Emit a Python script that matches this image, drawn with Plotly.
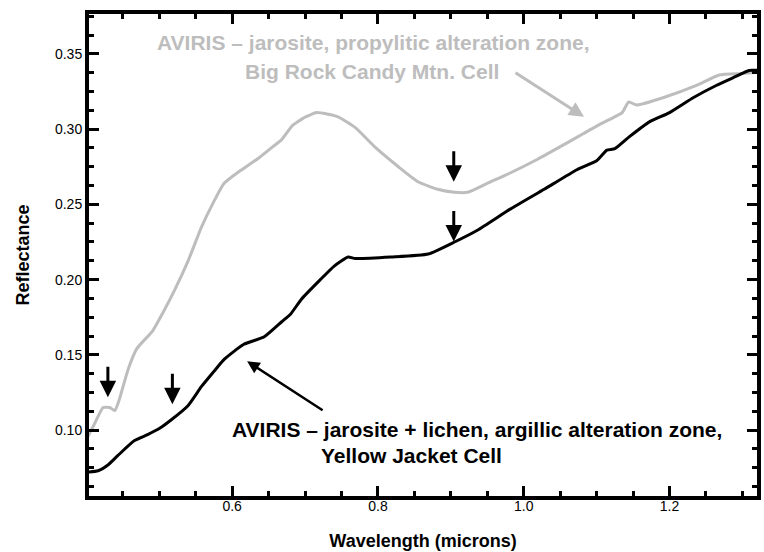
import plotly.graph_objects as go

# Propylitic (gray) spectrum: Big Rock Candy Mtn. Cell
wl_propylitic = [0.400, 0.410, 0.423, 0.432, 0.439, 0.445, 0.457, 0.469, 0.491, 0.505,
                 0.521, 0.540, 0.558, 0.575, 0.589, 0.610, 0.637, 0.655, 0.668, 0.682,
                 0.700, 0.716, 0.730, 0.746, 0.769, 0.796, 0.828, 0.855, 0.882, 0.905,
                 0.923, 0.950, 0.982, 1.019, 1.060, 1.100, 1.124, 1.135, 1.144, 1.155,
                 1.192, 1.237, 1.268, 1.301, 1.323]
refl_propylitic = [0.094, 0.103, 0.115, 0.115, 0.113, 0.120, 0.140, 0.154, 0.166, 0.178,
                   0.193, 0.213, 0.235, 0.252, 0.264, 0.272, 0.281, 0.288, 0.293, 0.302,
                   0.308, 0.311, 0.310, 0.308, 0.301, 0.288, 0.275, 0.265, 0.260, 0.258,
                   0.258, 0.264, 0.271, 0.280, 0.291, 0.302, 0.308, 0.311, 0.318, 0.316,
                   0.321, 0.329, 0.336, 0.337, 0.338]

# Argillic (black) spectrum: Yellow Jacket Cell
wl_argillic = [0.400, 0.416, 0.430, 0.443, 0.466, 0.484, 0.500, 0.517, 0.539, 0.558,
               0.575, 0.589, 0.616, 0.644, 0.668, 0.680, 0.695, 0.721, 0.740, 0.759,
               0.769, 0.818, 0.869, 0.905, 0.937, 0.982, 1.028, 1.073, 1.100, 1.114,
               1.125, 1.145, 1.173, 1.200, 1.233, 1.264, 1.291, 1.309, 1.323]
refl_argillic = [0.072, 0.073, 0.077, 0.083, 0.093, 0.097, 0.101, 0.107, 0.116, 0.129,
                 0.139, 0.147, 0.157, 0.162, 0.172, 0.177, 0.187, 0.200, 0.209, 0.215,
                 0.214, 0.215, 0.217, 0.225, 0.233, 0.247, 0.260, 0.273, 0.279, 0.286,
                 0.287, 0.295, 0.305, 0.311, 0.321, 0.329, 0.335, 0.339, 0.339]

x_tick_vals = [0.6, 0.8, 1.0, 1.2]
x_tick_text = ["0.6", "0.8", "1.0", "1.2"]
y_tick_vals = [0.10, 0.15, 0.20, 0.25, 0.30, 0.35]
y_tick_text = ["0.10", "0.15", "0.20", "0.25", "0.30", "0.35"]

label_propylitic = ["AVIRIS \u2013 jarosite, propylitic alteration zone,", "Big Rock Candy Mtn. Cell"]
label_argillic = ["AVIRIS \u2013 jarosite + lichen, argillic alteration zone,", "Yellow Jacket Cell"]
# absorption-feature markers (wavelength, reflectance at arrow tip)
feature_wl = [0.4295, 0.518, 0.904, 0.904]
feature_refl = [0.1219, 0.1172, 0.2650, 0.2253]

GRAY = "#bdbdbd"
FONT = "Liberation Sans, Arial, sans-serif"

fig = go.Figure()
fig.add_trace(go.Scatter(x=wl_propylitic, y=refl_propylitic, mode="lines",
                         line=dict(color=GRAY, width=3, shape="spline", smoothing=0.5),
                         showlegend=False, hoverinfo="skip"))
fig.add_trace(go.Scatter(x=wl_argillic, y=refl_argillic, mode="lines",
                         line=dict(color="black", width=3, shape="spline", smoothing=0.5),
                         showlegend=False, hoverinfo="skip"))

ann_font = 21
annotations = []
annotations.append(dict(x=0.7937, y=0.3573, text=label_propylitic[0], showarrow=False,
                        xanchor="center", yanchor="middle",
                        font=dict(family=FONT, size=ann_font, color=GRAY, weight="bold")))
annotations.append(dict(x=0.7916, y=0.3381, text=label_propylitic[1], showarrow=False,
                        xanchor="center", yanchor="middle",
                        font=dict(family=FONT, size=ann_font, color=GRAY, weight="bold")))
annotations.append(dict(x=0.9355, y=0.1007, text=label_argillic[0], showarrow=False,
                        xanchor="center", yanchor="middle",
                        font=dict(family=FONT, size=ann_font, color="black", weight="bold")))
annotations.append(dict(x=0.8461, y=0.0828, text=label_argillic[1], showarrow=False,
                        xanchor="center", yanchor="middle",
                        font=dict(family=FONT, size=ann_font, color="black", weight="bold")))
# pointer arrows
annotations.append(dict(x=1.0827, y=0.3082, ax=-70, ay=-45, text="", showarrow=True,
                        arrowhead=2, arrowsize=1.0, arrowwidth=3, arrowcolor=GRAY))
annotations.append(dict(x=0.6205, y=0.1458, ax=77, ay=50, text="", showarrow=True,
                        arrowhead=2, arrowsize=1.0, arrowwidth=2.5, arrowcolor="black"))
for fx, fy in zip(feature_wl, feature_refl):
    annotations.append(dict(x=fx, y=fy, ax=0, ay=-32, text="", showarrow=True,
                            arrowhead=2, arrowsize=1.1, arrowwidth=3, arrowcolor="black"))

axis_common = dict(showline=True, linecolor="black", linewidth=4, mirror="allticks",
                   ticks="inside", ticklen=10, tickwidth=3, tickcolor="black",
                   showgrid=False, zeroline=False,
                   tickfont=dict(family=FONT, size=14, color="black"))

fig.update_layout(
    width=764, height=552,
    margin=dict(l=89, r=3, t=14, b=55),
    paper_bgcolor="white", plot_bgcolor="white",
    annotations=annotations,
    xaxis=dict(range=[0.4036, 1.320], tickvals=x_tick_vals, ticktext=x_tick_text,
               ticklabelstandoff=-6,
               minor=dict(dtick=0.05, tick0=0.4, ticks="inside", ticklen=5, tickwidth=3,
                          tickcolor="black", showgrid=False),
               title=dict(text="Wavelength (microns)", standoff=23,
                          font=dict(family=FONT, size=18, color="black", weight="bold")),
               **axis_common),
    yaxis=dict(range=[0.0562, 0.3765], tickvals=y_tick_vals, ticktext=y_tick_text,
               ticklabelstandoff=0,
               minor=dict(dtick=0.0125, tick0=0.05, ticks="inside", ticklen=5, tickwidth=3,
                          tickcolor="black", showgrid=False),
               title=dict(text="Reflectance", standoff=22,
                          font=dict(family=FONT, size=18, color="black", weight="bold")),
               **axis_common),
)

fig.write_html("out.html", config={"displayModeBar": False},
               post_script="document.body.style.margin='0';document.body.style.padding='0';")
